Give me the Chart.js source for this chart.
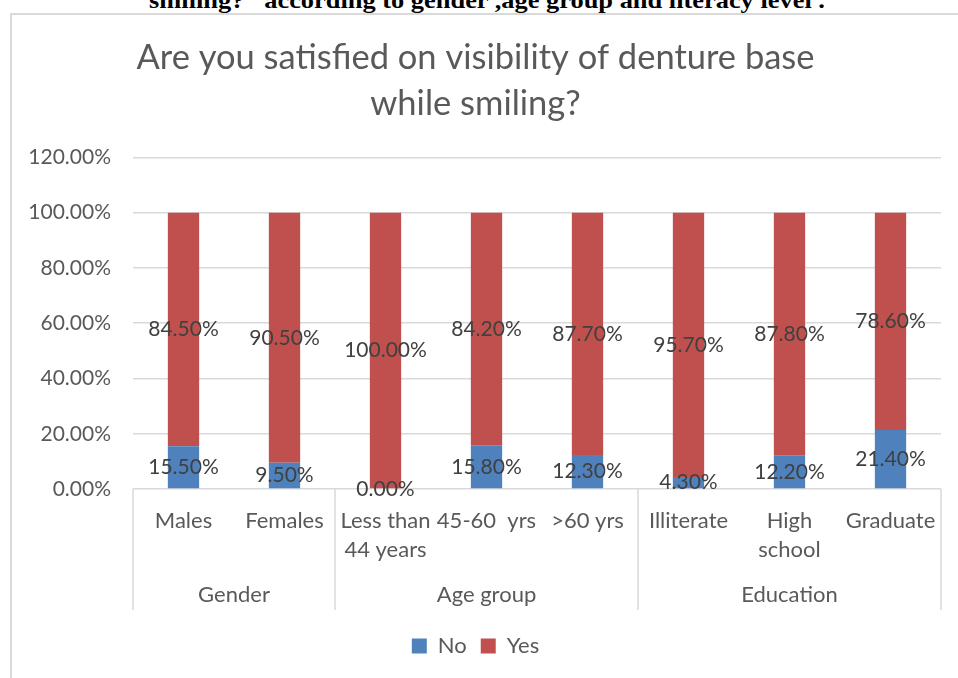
<!DOCTYPE html>
<html>
<head>
<meta charset="utf-8">
<script src="https://cdn.jsdelivr.net/npm/chart.js@4.4.1/dist/chart.umd.min.js"></script>
<style>
  body { margin: 0; background: #fff; width: 958px; height: 678px; overflow: hidden; position: relative; }
  #frame { position: absolute; left: 10px; top: 13px; width: 960px; height: 680px;
           border-left: 2px solid #d9d9d9; border-top: 2px solid #d9d9d9; }
  #head { position: absolute; left: 8px; width: 958px; top: -12px; text-align: center;
          font: bold 24px "Liberation Serif", serif; line-height: 24px; color: #000;
          transform: scaleX(1.1); }
  #grafica { position: absolute; left: 0; top: 0; }
</style>
</head>
<body>
<div id="frame"></div>
<div id="head">smiling?&nbsp;&nbsp; according to gender ,age group and literacy level .</div>
<canvas id="grafica" width="958" height="678"></canvas>
<script>
// datos
const categorias = ['Males', 'Females', ['Less than', '44 years'], '45-60  yrs', '>60 yrs', 'Illiterate', ['High', 'school'], 'Graduate']
const grupos = ['Gender', 'Age group', 'Education']
const tamGrupos = [2, 3, 3]
const valoresNo = [15.5, 9.5, 0, 15.8, 12.3, 4.3, 12.2, 21.4]
const valoresYes = [84.5, 90.5, 100, 84.2, 87.7, 95.7, 87.8, 78.6]
const ticksY = [0, 20, 40, 60, 80, 100, 120]

const fuente = 'Lato, "Open Sans", sans-serif'
const gris = '#d9d9d9'

// etiquetas de valor en el centro de cada barra
const etiquetas = {
    id: 'etiquetas',
    afterDatasetsDraw(chart) {
        const ctx = chart.ctx
        ctx.save()
        ctx.font = '21px ' + fuente
        ctx.fillStyle = '#404040'
        ctx.textAlign = 'center'
        ctx.textBaseline = 'middle'
        chart.data.datasets.forEach((ds, i) => {
            chart.getDatasetMeta(i).data.forEach((bar, j) => {
                const p = bar.getProps(['x', 'y', 'base'], true)
                ctx.fillText(ds.data[j].toFixed(2) + '%', p.x, (p.y + p.base) / 2)
            })
        })
        ctx.restore()
    }
}

// segundo nivel del eje x (grupos)
const ejeGrupos = {
    id: 'ejeGrupos',
    afterDraw(chart) {
        const ctx = chart.ctx
        const x = chart.scales.x
        const area = chart.chartArea
        const fondo = 610
        let bordes = [area.left]
        let idx = 0
        tamGrupos.forEach(n => {
            idx += n
            if (idx < categorias.length) {
                bordes.push((x.getPixelForValue(idx - 1) + x.getPixelForValue(idx)) / 2)
            }
        })
        bordes.push(area.right)
        ctx.save()
        ctx.strokeStyle = gris
        ctx.lineWidth = 1.5
        bordes.forEach(b => {
            ctx.beginPath()
            ctx.moveTo(b, area.bottom)
            ctx.lineTo(b, fondo)
            ctx.stroke()
        })
        ctx.font = '22px ' + fuente
        ctx.fillStyle = '#595959'
        ctx.textAlign = 'center'
        ctx.textBaseline = 'middle'
        grupos.forEach((g, i) => {
            ctx.fillText(g, (bordes[i] + bordes[i + 1]) / 2, 595)
        })
        ctx.restore()
    }
}

let grafica = new Chart(document.getElementById('grafica').getContext('2d'), {
    type: 'bar',
    data: {
        labels: categorias,
        datasets: [
            { label: 'No', data: valoresNo, backgroundColor: '#4F81BD', barPercentage: 0.31, categoryPercentage: 1 },
            { label: 'Yes', data: valoresYes, backgroundColor: '#C0504D', barPercentage: 0.31, categoryPercentage: 1 }
        ]
    },
    options: {
        responsive: false,
        animation: false,
        devicePixelRatio: 1,
        layout: { padding: { left: 10, right: 17, top: 13, bottom: 11 } },
        plugins: {
            title: {
                display: true,
                text: ['Are you satisfied on visibility of denture base', 'while smiling?'],
                color: '#595959',
                font: { family: fuente, size: 34.5, weight: 'normal', lineHeight: 1.34 },
                padding: { top: 22, bottom: 30 }
            },
            legend: {
                position: 'bottom',
                labels: {
                    color: '#595959',
                    font: { family: fuente, size: 22 },
                    boxWidth: 15, boxHeight: 15,
                    padding: 14
                }
            },
            tooltip: { enabled: false }
        },
        scales: {
            x: {
                stacked: true,
                grid: { display: false },
                border: { display: false },
                ticks: {
                    color: '#595959',
                    font: { family: fuente, size: 22, lineHeight: 1.32 },
                    maxRotation: 0,
                    autoSkip: false,
                    padding: 9
                },
                afterFit: (s) => { s.height = 132 }
            },
            y: {
                stacked: true,
                min: 0,
                max: 120,
                afterBuildTicks: (s) => { s.ticks = ticksY.map(v => ({ value: v })) },
                grid: { color: gris, lineWidth: 1.5, drawTicks: false },
                border: { display: false },
                ticks: {
                    color: '#595959',
                    font: { family: fuente, size: 21 },
                    padding: 22,
                    autoSkip: false,
                    callback: (v) => v.toFixed(2) + '%'
                },
                afterFit: (s) => { s.width = 123 }
            }
        }
    },
    plugins: [etiquetas, ejeGrupos]
})
</script>
</body>
</html>
